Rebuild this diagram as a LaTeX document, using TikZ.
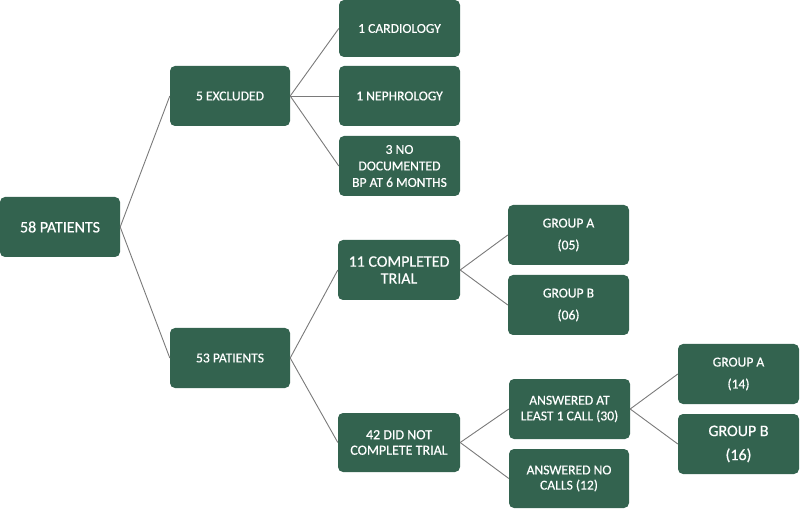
\documentclass[tikz,border=0pt]{standalone}
\usepackage{fontspec}
\setmainfont{Carlito}
\newfontfamily\boxfont{Carlito}[FakeBold=0.5]
\definecolor{boxgreen}{HTML}{33634F}
\definecolor{linegray}{HTML}{7A7A7A}
\begin{document}
\begin{tikzpicture}[x=1pt,y=-1pt,
  box/.style={draw=none,fill=boxgreen,rounded corners=5pt,text=white,align=center,
    minimum width=121pt,minimum height=60pt,inner sep=1pt,
    font=\boxfont\fontsize{13.6}{16.5}\selectfont},
  grp/.style={box,font=\boxfont\fontsize{13.6}{22}\selectfont},
  grpbig/.style={box,font=\boxfont\fontsize{16}{24}\selectfont},
  link/.style={draw=linegray,line width=0.9pt}]
\useasboundingbox (0,0) rectangle (800,510);
\node[box,minimum width=120pt,font=\boxfont\fontsize{16}{18}\selectfont] (p58) at (60,227) {58 PATIENTS};
\node[box,minimum width=120pt] (ex5) at (230,96) {5 EXCLUDED};
\node[box,minimum height=57pt] (card) at (399.5,28.5) {1 CARDIOLOGY};
\node[box] (neph) at (399.5,96) {1 NEPHROLOGY};
\node[box] (nodoc) at (399.5,166) {3 NO\\DOCUMENTED\\BP AT 6 MONTHS};
\node[box,minimum width=120pt] (p53) at (230,358) {53 PATIENTS};
\node[box,minimum width=122pt,font=\boxfont\fontsize{16}{17}\selectfont] (comp) at (399,270) {11 COMPLETED\\TRIAL};
\node[grp] (gA05) at (568.5,235) {GROUP A\\(05)};
\node[grp] (gB06) at (568.5,305) {GROUP B\\(06)};
\node[box,minimum width=122pt,minimum height=59pt,font=\boxfont\fontsize{14}{15.5}\selectfont] (dnc) at (399,442.5) {42 DID NOT\\COMPLETE TRIAL};
\node[box,font=\boxfont\fontsize{13.6}{15.7}\selectfont] (ans1) at (569.5,409) {ANSWERED AT\\LEAST 1 CALL (30)};
\node[box,minimum width=120pt,minimum height=59pt,font=\boxfont\fontsize{13.6}{15.2}\selectfont] (ans0) at (569,478.5) {ANSWERED NO\\CALLS (12)};
\node[grp] (gA14) at (738.5,374) {GROUP A\\(14)};
\node[grpbig] (gB16) at (738.5,444) {GROUP B\\(16)};
\draw[link] (p58.east) -- (ex5.west);
\draw[link] (p58.east) -- (p53.west);
\draw[link] (ex5.east) -- (card.west);
\draw[link] (ex5.east) -- (neph.west);
\draw[link] (ex5.east) -- (nodoc.west);
\draw[link] (p53.east) -- (comp.west);
\draw[link] (p53.east) -- (dnc.west);
\draw[link] (comp.east) -- (gA05.west);
\draw[link] (comp.east) -- (gB06.west);
\draw[link] (dnc.east) -- (ans1.west);
\draw[link] (dnc.east) -- (ans0.west);
\draw[link] (ans1.east) -- (gA14.west);
\draw[link] (ans1.east) -- (gB16.west);
\end{tikzpicture}
\end{document}
